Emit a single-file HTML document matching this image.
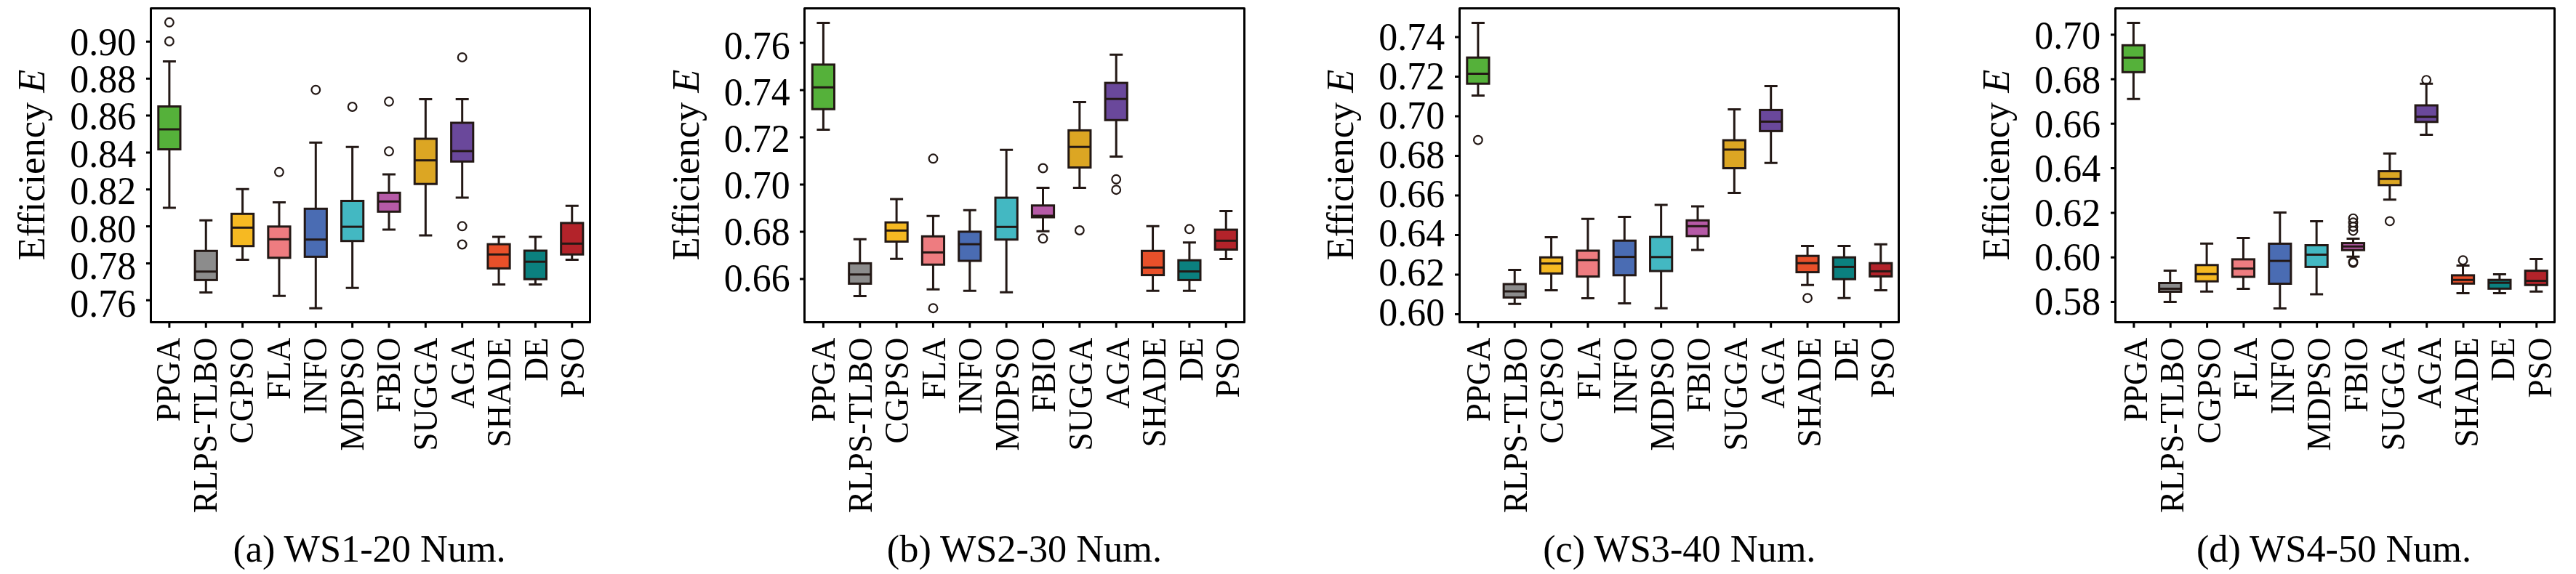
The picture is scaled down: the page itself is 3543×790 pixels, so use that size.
<!DOCTYPE html>
<html><head><meta charset="utf-8"><style>
html,body{margin:0;padding:0;background:#fff;overflow:hidden;}
svg{display:block;will-change:transform;}
text{font-family:"Liberation Serif",serif;fill:#000;}
.t{font-size:51.9px;} .x{font-size:45.3px;} .y{font-size:52.5px;} .c{font-size:52.3px;}
</style></head><body>
<svg width="3543" height="790" viewBox="0 0 3543 790">
<rect width="3543" height="790" fill="#fff"/>
<path d="M232.9 84.5V146.5M232.9 205.5V286.1M223.9 84.5H241.9M223.9 286.1H241.9" stroke="#231815" stroke-width="3" fill="none"/>
<rect x="217.8" y="146.5" width="30.2" height="59" fill="#55b13a" stroke="#231815" stroke-width="3"/>
<path d="M217.8 178H248" stroke="#231815" stroke-width="3"/>
<circle cx="232.9" cy="30.8" r="5.85" fill="none" stroke="#231815" stroke-width="2.2"/>
<circle cx="232.9" cy="56.9" r="5.85" fill="none" stroke="#231815" stroke-width="2.2"/>
<path d="M283.25 303.3V345.3M283.25 385.4V402.5M274.25 303.3H292.25M274.25 402.5H292.25" stroke="#231815" stroke-width="3" fill="none"/>
<rect x="268.15" y="345.3" width="30.2" height="40.1" fill="#8c8c8c" stroke="#231815" stroke-width="3"/>
<path d="M268.15 373.8H298.35" stroke="#231815" stroke-width="3"/>
<path d="M333.6 260.2V294.3M333.6 338.7V357.6M324.6 260.2H342.6M324.6 357.6H342.6" stroke="#231815" stroke-width="3" fill="none"/>
<rect x="318.5" y="294.3" width="30.2" height="44.4" fill="#f6b922" stroke="#231815" stroke-width="3"/>
<path d="M318.5 313.3H348.7" stroke="#231815" stroke-width="3"/>
<path d="M383.95 278.5V311.8M383.95 354.8V407.2M374.95 278.5H392.95M374.95 407.2H392.95" stroke="#231815" stroke-width="3" fill="none"/>
<rect x="368.85" y="311.8" width="30.2" height="43" fill="#ee7c80" stroke="#231815" stroke-width="3"/>
<path d="M368.85 329.3H399.05" stroke="#231815" stroke-width="3"/>
<circle cx="383.95" cy="236.8" r="5.85" fill="none" stroke="#231815" stroke-width="2.2"/>
<path d="M434.3 196.2V287.3M434.3 353.4V424.2M425.3 196.2H443.3M425.3 424.2H443.3" stroke="#231815" stroke-width="3" fill="none"/>
<rect x="419.2" y="287.3" width="30.2" height="66.1" fill="#4a6cb3" stroke="#231815" stroke-width="3"/>
<path d="M419.2 329.7H449.4" stroke="#231815" stroke-width="3"/>
<circle cx="434.3" cy="123.7" r="5.85" fill="none" stroke="#231815" stroke-width="2.2"/>
<path d="M484.65 202.2V276.5M484.65 331.7V396.2M475.65 202.2H493.65M475.65 396.2H493.65" stroke="#231815" stroke-width="3" fill="none"/>
<rect x="469.55" y="276.5" width="30.2" height="55.2" fill="#43b8c2" stroke="#231815" stroke-width="3"/>
<path d="M469.55 312.1H499.75" stroke="#231815" stroke-width="3"/>
<circle cx="484.65" cy="147" r="5.85" fill="none" stroke="#231815" stroke-width="2.2"/>
<path d="M535 240V265.3M535 291.3V316.1M526 240H544M526 316.1H544" stroke="#231815" stroke-width="3" fill="none"/>
<rect x="519.9" y="265.3" width="30.2" height="26" fill="#b65aa7" stroke="#231815" stroke-width="3"/>
<path d="M519.9 277.3H550.1" stroke="#231815" stroke-width="3"/>
<circle cx="535" cy="139.8" r="5.85" fill="none" stroke="#231815" stroke-width="2.2"/>
<circle cx="535" cy="208.3" r="5.85" fill="none" stroke="#231815" stroke-width="2.2"/>
<path d="M585.35 136.6V191M585.35 253.2V324.1M576.35 136.6H594.35M576.35 324.1H594.35" stroke="#231815" stroke-width="3" fill="none"/>
<rect x="570.25" y="191" width="30.2" height="62.2" fill="#dca623" stroke="#231815" stroke-width="3"/>
<path d="M570.25 220.7H600.45" stroke="#231815" stroke-width="3"/>
<path d="M635.7 136.6V169M635.7 222.3V272.1M626.7 136.6H644.7M626.7 272.1H644.7" stroke="#231815" stroke-width="3" fill="none"/>
<rect x="620.6" y="169" width="30.2" height="53.3" fill="#6a489b" stroke="#231815" stroke-width="3"/>
<path d="M620.6 207.9H650.8" stroke="#231815" stroke-width="3"/>
<circle cx="635.7" cy="78.9" r="5.85" fill="none" stroke="#231815" stroke-width="2.2"/>
<circle cx="635.7" cy="311.3" r="5.85" fill="none" stroke="#231815" stroke-width="2.2"/>
<circle cx="635.7" cy="336.5" r="5.85" fill="none" stroke="#231815" stroke-width="2.2"/>
<path d="M686.05 326.1V336.1M686.05 369.4V391.4M677.05 326.1H695.05M677.05 391.4H695.05" stroke="#231815" stroke-width="3" fill="none"/>
<rect x="670.95" y="336.1" width="30.2" height="33.3" fill="#e8502a" stroke="#231815" stroke-width="3"/>
<path d="M670.95 350.2H701.15" stroke="#231815" stroke-width="3"/>
<path d="M736.4 326.1V345M736.4 384.2V391.4M727.4 326.1H745.4M727.4 391.4H745.4" stroke="#231815" stroke-width="3" fill="none"/>
<rect x="721.3" y="345" width="30.2" height="39.2" fill="#0b807f" stroke="#231815" stroke-width="3"/>
<path d="M721.3 360.2H751.5" stroke="#231815" stroke-width="3"/>
<path d="M786.75 283.3V306.9M786.75 350.2V357.4M777.75 283.3H795.75M777.75 357.4H795.75" stroke="#231815" stroke-width="3" fill="none"/>
<rect x="771.65" y="306.9" width="30.2" height="43.3" fill="#b3232a" stroke="#231815" stroke-width="3"/>
<path d="M771.65 335.3H801.85" stroke="#231815" stroke-width="3"/>
<rect x="207.5" y="11.5" width="604" height="432" fill="none" stroke="#000" stroke-width="3" stroke-linejoin="round"/>
<text transform="translate(187.1,435.6) scale(1,1.045)" class="t" text-anchor="end">0.76</text>
<text transform="translate(187.1,384.16) scale(1,1.045)" class="t" text-anchor="end">0.78</text>
<text transform="translate(187.1,332.71) scale(1,1.045)" class="t" text-anchor="end">0.80</text>
<text transform="translate(187.1,281.27) scale(1,1.045)" class="t" text-anchor="end">0.82</text>
<text transform="translate(187.1,229.83) scale(1,1.045)" class="t" text-anchor="end">0.84</text>
<text transform="translate(187.1,178.39) scale(1,1.045)" class="t" text-anchor="end">0.86</text>
<text transform="translate(187.1,126.94) scale(1,1.045)" class="t" text-anchor="end">0.88</text>
<text transform="translate(187.1,75.5) scale(1,1.045)" class="t" text-anchor="end">0.90</text>
<text transform="translate(247.3,464.5) rotate(-90) scale(1,1.035)" class="x" text-anchor="end">PPGA</text>
<text transform="translate(297.83,464.5) rotate(-90) scale(1,1.035)" class="x" text-anchor="end">RLPS-TLBO</text>
<text transform="translate(348.36,464.5) rotate(-90) scale(1,1.035)" class="x" text-anchor="end">CGPSO</text>
<text transform="translate(398.89,464.5) rotate(-90) scale(1,1.035)" class="x" text-anchor="end">FLA</text>
<text transform="translate(449.42,464.5) rotate(-90) scale(1,1.035)" class="x" text-anchor="end">INFO</text>
<text transform="translate(499.95,464.5) rotate(-90) scale(1,1.035)" class="x" text-anchor="end">MDPSO</text>
<text transform="translate(550.48,464.5) rotate(-90) scale(1,1.035)" class="x" text-anchor="end">FBIO</text>
<text transform="translate(601.01,464.5) rotate(-90) scale(1,1.035)" class="x" text-anchor="end">SUGGA</text>
<text transform="translate(651.54,464.5) rotate(-90) scale(1,1.035)" class="x" text-anchor="end">AGA</text>
<text transform="translate(702.07,464.5) rotate(-90) scale(1,1.035)" class="x" text-anchor="end">SHADE</text>
<text transform="translate(752.6,464.5) rotate(-90) scale(1,1.035)" class="x" text-anchor="end">DE</text>
<text transform="translate(803.13,464.5) rotate(-90) scale(1,1.035)" class="x" text-anchor="end">PSO</text>
<path d="M201 413.28H207.5M201 362.43H207.5M201 311.58H207.5M201 260.73H207.5M201 209.88H207.5M201 159.03H207.5M201 108.18H207.5M201 57.33H207.5M232.9 443.5V451M283.25 443.5V451M333.6 443.5V451M383.95 443.5V451M434.3 443.5V451M484.65 443.5V451M535 443.5V451M585.35 443.5V451M635.7 443.5V451M686.05 443.5V451M736.4 443.5V451M786.75 443.5V451" stroke="#000" stroke-width="3"/>
<text transform="translate(61,227) rotate(-90)" class="y" text-anchor="middle">Efficiency <tspan font-style="italic">E</tspan></text>
<text x="508.05" y="773" class="c" text-anchor="middle">(a) WS1-20 Num.</text>
<path d="M1132.4 31.5V88.9M1132.4 150.2V178.6M1123.4 31.5H1141.4M1123.4 178.6H1141.4" stroke="#231815" stroke-width="3" fill="none"/>
<rect x="1117.3" y="88.9" width="30.2" height="61.3" fill="#55b13a" stroke="#231815" stroke-width="3"/>
<path d="M1117.3 120.2H1147.5" stroke="#231815" stroke-width="3"/>
<path d="M1182.75 329.3V362.4M1182.75 390.4V407.5M1173.75 329.3H1191.75M1173.75 407.5H1191.75" stroke="#231815" stroke-width="3" fill="none"/>
<rect x="1167.65" y="362.4" width="30.2" height="28" fill="#8c8c8c" stroke="#231815" stroke-width="3"/>
<path d="M1167.65 377.8H1197.85" stroke="#231815" stroke-width="3"/>
<path d="M1233.1 274.1V306.1M1233.1 332.5V356.2M1224.1 274.1H1242.1M1224.1 356.2H1242.1" stroke="#231815" stroke-width="3" fill="none"/>
<rect x="1218" y="306.1" width="30.2" height="26.4" fill="#f6b922" stroke="#231815" stroke-width="3"/>
<path d="M1218 317.3H1248.2" stroke="#231815" stroke-width="3"/>
<path d="M1283.45 297.3V325.3M1283.45 364.2V398.2M1274.45 297.3H1292.45M1274.45 398.2H1292.45" stroke="#231815" stroke-width="3" fill="none"/>
<rect x="1268.35" y="325.3" width="30.2" height="38.9" fill="#ee7c80" stroke="#231815" stroke-width="3"/>
<path d="M1268.35 347.4H1298.55" stroke="#231815" stroke-width="3"/>
<circle cx="1283.45" cy="218.3" r="5.85" fill="none" stroke="#231815" stroke-width="2.2"/>
<circle cx="1283.45" cy="424.2" r="5.85" fill="none" stroke="#231815" stroke-width="2.2"/>
<path d="M1333.8 289.3V318.9M1333.8 359V400.2M1324.8 289.3H1342.8M1324.8 400.2H1342.8" stroke="#231815" stroke-width="3" fill="none"/>
<rect x="1318.7" y="318.9" width="30.2" height="40.1" fill="#4a6cb3" stroke="#231815" stroke-width="3"/>
<path d="M1318.7 336.1H1348.9" stroke="#231815" stroke-width="3"/>
<path d="M1384.15 206.2V272.1M1384.15 329.7V402.2M1375.15 206.2H1393.15M1375.15 402.2H1393.15" stroke="#231815" stroke-width="3" fill="none"/>
<rect x="1369.05" y="272.1" width="30.2" height="57.6" fill="#43b8c2" stroke="#231815" stroke-width="3"/>
<path d="M1369.05 312.3H1399.25" stroke="#231815" stroke-width="3"/>
<path d="M1434.5 258.5V282.8M1434.5 299V318.3M1425.5 258.5H1443.5M1425.5 318.3H1443.5" stroke="#231815" stroke-width="3" fill="none"/>
<rect x="1419.4" y="282.8" width="30.2" height="16.2" fill="#b65aa7" stroke="#231815" stroke-width="3"/>
<path d="M1419.4 297H1449.6" stroke="#231815" stroke-width="3"/>
<circle cx="1434.5" cy="231.5" r="5.85" fill="none" stroke="#231815" stroke-width="2.2"/>
<circle cx="1434.5" cy="328.3" r="5.85" fill="none" stroke="#231815" stroke-width="2.2"/>
<path d="M1484.85 140.6V179.4M1484.85 230.5V258.5M1475.85 140.6H1493.85M1475.85 258.5H1493.85" stroke="#231815" stroke-width="3" fill="none"/>
<rect x="1469.75" y="179.4" width="30.2" height="51.1" fill="#dca623" stroke="#231815" stroke-width="3"/>
<path d="M1469.75 202.2H1499.95" stroke="#231815" stroke-width="3"/>
<circle cx="1484.85" cy="317" r="5.85" fill="none" stroke="#231815" stroke-width="2.2"/>
<path d="M1535.2 75.3V114.1M1535.2 165.3V215.6M1526.2 75.3H1544.2M1526.2 215.6H1544.2" stroke="#231815" stroke-width="3" fill="none"/>
<rect x="1520.1" y="114.1" width="30.2" height="51.2" fill="#6a489b" stroke="#231815" stroke-width="3"/>
<path d="M1520.1 136.2H1550.3" stroke="#231815" stroke-width="3"/>
<circle cx="1535.2" cy="246.8" r="5.85" fill="none" stroke="#231815" stroke-width="2.2"/>
<circle cx="1535.2" cy="261.2" r="5.85" fill="none" stroke="#231815" stroke-width="2.2"/>
<path d="M1585.55 311.3V345.3M1585.55 378.6V400.2M1576.55 311.3H1594.55M1576.55 400.2H1594.55" stroke="#231815" stroke-width="3" fill="none"/>
<rect x="1570.45" y="345.3" width="30.2" height="33.3" fill="#e8502a" stroke="#231815" stroke-width="3"/>
<path d="M1570.45 368.2H1600.65" stroke="#231815" stroke-width="3"/>
<path d="M1635.9 333.7V358.2M1635.9 385.4V400.2M1626.9 333.7H1644.9M1626.9 400.2H1644.9" stroke="#231815" stroke-width="3" fill="none"/>
<rect x="1620.8" y="358.2" width="30.2" height="27.2" fill="#0b807f" stroke="#231815" stroke-width="3"/>
<path d="M1620.8 373.6H1651" stroke="#231815" stroke-width="3"/>
<circle cx="1635.9" cy="315.3" r="5.85" fill="none" stroke="#231815" stroke-width="2.2"/>
<path d="M1686.25 290.5V316.1M1686.25 343.5V356.4M1677.25 290.5H1695.25M1677.25 356.4H1695.25" stroke="#231815" stroke-width="3" fill="none"/>
<rect x="1671.15" y="316.1" width="30.2" height="27.4" fill="#b3232a" stroke="#231815" stroke-width="3"/>
<path d="M1671.15 331.3H1701.35" stroke="#231815" stroke-width="3"/>
<rect x="1106.5" y="11.5" width="605" height="432" fill="none" stroke="#000" stroke-width="3" stroke-linejoin="round"/>
<text transform="translate(1086.6,400.6) scale(1,1.045)" class="t" text-anchor="end">0.66</text>
<text transform="translate(1086.6,336.6) scale(1,1.045)" class="t" text-anchor="end">0.68</text>
<text transform="translate(1086.6,272.6) scale(1,1.045)" class="t" text-anchor="end">0.70</text>
<text transform="translate(1086.6,208.6) scale(1,1.045)" class="t" text-anchor="end">0.72</text>
<text transform="translate(1086.6,144.6) scale(1,1.045)" class="t" text-anchor="end">0.74</text>
<text transform="translate(1086.6,80.6) scale(1,1.045)" class="t" text-anchor="end">0.76</text>
<text transform="translate(1148.3,464.5) rotate(-90) scale(1,1.035)" class="x" text-anchor="end">PPGA</text>
<text transform="translate(1198.83,464.5) rotate(-90) scale(1,1.035)" class="x" text-anchor="end">RLPS-TLBO</text>
<text transform="translate(1249.36,464.5) rotate(-90) scale(1,1.035)" class="x" text-anchor="end">CGPSO</text>
<text transform="translate(1299.89,464.5) rotate(-90) scale(1,1.035)" class="x" text-anchor="end">FLA</text>
<text transform="translate(1350.42,464.5) rotate(-90) scale(1,1.035)" class="x" text-anchor="end">INFO</text>
<text transform="translate(1400.95,464.5) rotate(-90) scale(1,1.035)" class="x" text-anchor="end">MDPSO</text>
<text transform="translate(1451.48,464.5) rotate(-90) scale(1,1.035)" class="x" text-anchor="end">FBIO</text>
<text transform="translate(1502.01,464.5) rotate(-90) scale(1,1.035)" class="x" text-anchor="end">SUGGA</text>
<text transform="translate(1552.54,464.5) rotate(-90) scale(1,1.035)" class="x" text-anchor="end">AGA</text>
<text transform="translate(1603.07,464.5) rotate(-90) scale(1,1.035)" class="x" text-anchor="end">SHADE</text>
<text transform="translate(1653.6,464.5) rotate(-90) scale(1,1.035)" class="x" text-anchor="end">DE</text>
<text transform="translate(1704.13,464.5) rotate(-90) scale(1,1.035)" class="x" text-anchor="end">PSO</text>
<path d="M1100 384.1H1106.5M1100 319.07H1106.5M1100 254.04H1106.5M1100 189.01H1106.5M1100 123.98H1106.5M1100 58.95H1106.5M1132.4 443.5V451M1182.75 443.5V451M1233.1 443.5V451M1283.45 443.5V451M1333.8 443.5V451M1384.15 443.5V451M1434.5 443.5V451M1484.85 443.5V451M1535.2 443.5V451M1585.55 443.5V451M1635.9 443.5V451M1686.25 443.5V451" stroke="#000" stroke-width="3"/>
<text transform="translate(960.5,227) rotate(-90)" class="y" text-anchor="middle">Efficiency <tspan font-style="italic">E</tspan></text>
<text x="1408.9" y="773" class="c" text-anchor="middle">(b) WS2-30 Num.</text>
<path d="M2032.9 31.5V79.2M2032.9 115.2V131.5M2023.9 31.5H2041.9M2023.9 131.5H2041.9" stroke="#231815" stroke-width="3" fill="none"/>
<rect x="2017.8" y="79.2" width="30.2" height="36" fill="#55b13a" stroke="#231815" stroke-width="3"/>
<path d="M2017.8 101.5H2048" stroke="#231815" stroke-width="3"/>
<circle cx="2032.9" cy="192.7" r="5.85" fill="none" stroke="#231815" stroke-width="2.2"/>
<path d="M2083.25 371.4V391M2083.25 409.4V418.2M2074.25 371.4H2092.25M2074.25 418.2H2092.25" stroke="#231815" stroke-width="3" fill="none"/>
<rect x="2068.15" y="391" width="30.2" height="18.4" fill="#8c8c8c" stroke="#231815" stroke-width="3"/>
<path d="M2068.15 401H2098.35" stroke="#231815" stroke-width="3"/>
<path d="M2133.6 326.4V354.2M2133.6 376.4V399.6M2124.6 326.4H2142.6M2124.6 399.6H2142.6" stroke="#231815" stroke-width="3" fill="none"/>
<rect x="2118.5" y="354.2" width="30.2" height="22.2" fill="#f6b922" stroke="#231815" stroke-width="3"/>
<path d="M2118.5 362.7H2148.7" stroke="#231815" stroke-width="3"/>
<path d="M2183.95 301.3V345M2183.95 380.6V410.4M2174.95 301.3H2192.95M2174.95 410.4H2192.95" stroke="#231815" stroke-width="3" fill="none"/>
<rect x="2168.85" y="345" width="30.2" height="35.6" fill="#ee7c80" stroke="#231815" stroke-width="3"/>
<path d="M2168.85 357.9H2199.05" stroke="#231815" stroke-width="3"/>
<path d="M2234.3 298.4V331.2M2234.3 378.8V417.4M2225.3 298.4H2243.3M2225.3 417.4H2243.3" stroke="#231815" stroke-width="3" fill="none"/>
<rect x="2219.2" y="331.2" width="30.2" height="47.6" fill="#4a6cb3" stroke="#231815" stroke-width="3"/>
<path d="M2219.2 353.6H2249.4" stroke="#231815" stroke-width="3"/>
<path d="M2284.65 282.1V326.1M2284.65 373V424.2M2275.65 282.1H2293.65M2275.65 424.2H2293.65" stroke="#231815" stroke-width="3" fill="none"/>
<rect x="2269.55" y="326.1" width="30.2" height="46.9" fill="#43b8c2" stroke="#231815" stroke-width="3"/>
<path d="M2269.55 353.8H2299.75" stroke="#231815" stroke-width="3"/>
<path d="M2335 284.1V303.3M2335 324.9V344.1M2326 284.1H2344M2326 344.1H2344" stroke="#231815" stroke-width="3" fill="none"/>
<rect x="2319.9" y="303.3" width="30.2" height="21.6" fill="#b65aa7" stroke="#231815" stroke-width="3"/>
<path d="M2319.9 311.3H2350.1" stroke="#231815" stroke-width="3"/>
<path d="M2385.35 150.6V193M2385.35 231.5V265.5M2376.35 150.6H2394.35M2376.35 265.5H2394.35" stroke="#231815" stroke-width="3" fill="none"/>
<rect x="2370.25" y="193" width="30.2" height="38.5" fill="#dca623" stroke="#231815" stroke-width="3"/>
<path d="M2370.25 205.9H2400.45" stroke="#231815" stroke-width="3"/>
<path d="M2435.7 118.5V151.4M2435.7 180.4V224.3M2426.7 118.5H2444.7M2426.7 224.3H2444.7" stroke="#231815" stroke-width="3" fill="none"/>
<rect x="2420.6" y="151.4" width="30.2" height="29" fill="#6a489b" stroke="#231815" stroke-width="3"/>
<path d="M2420.6 167.4H2450.8" stroke="#231815" stroke-width="3"/>
<path d="M2486.05 338.5V352.2M2486.05 374.6V392.2M2477.05 338.5H2495.05M2477.05 392.2H2495.05" stroke="#231815" stroke-width="3" fill="none"/>
<rect x="2470.95" y="352.2" width="30.2" height="22.4" fill="#e8502a" stroke="#231815" stroke-width="3"/>
<path d="M2470.95 362.2H2501.15" stroke="#231815" stroke-width="3"/>
<circle cx="2486.05" cy="410.2" r="5.85" fill="none" stroke="#231815" stroke-width="2.2"/>
<path d="M2536.4 338.5V354.2M2536.4 384.2V410.2M2527.4 338.5H2545.4M2527.4 410.2H2545.4" stroke="#231815" stroke-width="3" fill="none"/>
<rect x="2521.3" y="354.2" width="30.2" height="30" fill="#0b807f" stroke="#231815" stroke-width="3"/>
<path d="M2521.3 367.4H2551.5" stroke="#231815" stroke-width="3"/>
<path d="M2586.75 336.3V362.2M2586.75 380.4V399.5M2577.75 336.3H2595.75M2577.75 399.5H2595.75" stroke="#231815" stroke-width="3" fill="none"/>
<rect x="2571.65" y="362.2" width="30.2" height="18.2" fill="#b3232a" stroke="#231815" stroke-width="3"/>
<path d="M2571.65 373.4H2601.85" stroke="#231815" stroke-width="3"/>
<rect x="2007.5" y="11.5" width="604" height="432" fill="none" stroke="#000" stroke-width="3" stroke-linejoin="round"/>
<text transform="translate(1987.1,447.5) scale(1,1.045)" class="t" text-anchor="end">0.60</text>
<text transform="translate(1987.1,393.37) scale(1,1.045)" class="t" text-anchor="end">0.62</text>
<text transform="translate(1987.1,339.24) scale(1,1.045)" class="t" text-anchor="end">0.64</text>
<text transform="translate(1987.1,285.11) scale(1,1.045)" class="t" text-anchor="end">0.66</text>
<text transform="translate(1987.1,230.99) scale(1,1.045)" class="t" text-anchor="end">0.68</text>
<text transform="translate(1987.1,176.86) scale(1,1.045)" class="t" text-anchor="end">0.70</text>
<text transform="translate(1987.1,122.73) scale(1,1.045)" class="t" text-anchor="end">0.72</text>
<text transform="translate(1987.1,68.6) scale(1,1.045)" class="t" text-anchor="end">0.74</text>
<text transform="translate(2049.3,464.5) rotate(-90) scale(1,1.035)" class="x" text-anchor="end">PPGA</text>
<text transform="translate(2099.83,464.5) rotate(-90) scale(1,1.035)" class="x" text-anchor="end">RLPS-TLBO</text>
<text transform="translate(2150.36,464.5) rotate(-90) scale(1,1.035)" class="x" text-anchor="end">CGPSO</text>
<text transform="translate(2200.89,464.5) rotate(-90) scale(1,1.035)" class="x" text-anchor="end">FLA</text>
<text transform="translate(2251.42,464.5) rotate(-90) scale(1,1.035)" class="x" text-anchor="end">INFO</text>
<text transform="translate(2301.95,464.5) rotate(-90) scale(1,1.035)" class="x" text-anchor="end">MDPSO</text>
<text transform="translate(2352.48,464.5) rotate(-90) scale(1,1.035)" class="x" text-anchor="end">FBIO</text>
<text transform="translate(2403.01,464.5) rotate(-90) scale(1,1.035)" class="x" text-anchor="end">SUGGA</text>
<text transform="translate(2453.54,464.5) rotate(-90) scale(1,1.035)" class="x" text-anchor="end">AGA</text>
<text transform="translate(2504.07,464.5) rotate(-90) scale(1,1.035)" class="x" text-anchor="end">SHADE</text>
<text transform="translate(2554.6,464.5) rotate(-90) scale(1,1.035)" class="x" text-anchor="end">DE</text>
<text transform="translate(2605.13,464.5) rotate(-90) scale(1,1.035)" class="x" text-anchor="end">PSO</text>
<path d="M2001 432.41H2007.5M2001 377.94H2007.5M2001 323.47H2007.5M2001 269H2007.5M2001 214.53H2007.5M2001 160.06H2007.5M2001 105.59H2007.5M2001 51.12H2007.5M2032.9 443.5V451M2083.25 443.5V451M2133.6 443.5V451M2183.95 443.5V451M2234.3 443.5V451M2284.65 443.5V451M2335 443.5V451M2385.35 443.5V451M2435.7 443.5V451M2486.05 443.5V451M2536.4 443.5V451M2586.75 443.5V451" stroke="#000" stroke-width="3"/>
<text transform="translate(1861,227) rotate(-90)" class="y" text-anchor="middle">Efficiency <tspan font-style="italic">E</tspan></text>
<text x="2309.8" y="773" class="c" text-anchor="middle">(c) WS3-40 Num.</text>
<path d="M2934.4 31.5V62.3M2934.4 99.3V136.2M2925.4 31.5H2943.4M2925.4 136.2H2943.4" stroke="#231815" stroke-width="3" fill="none"/>
<rect x="2919.3" y="62.3" width="30.2" height="37" fill="#55b13a" stroke="#231815" stroke-width="3"/>
<path d="M2919.3 79.3H2949.5" stroke="#231815" stroke-width="3"/>
<path d="M2984.75 372.5V389.5M2984.75 401.5V415.5M2975.75 372.5H2993.75M2975.75 415.5H2993.75" stroke="#231815" stroke-width="3" fill="none"/>
<rect x="2969.65" y="389.5" width="30.2" height="12" fill="#8c8c8c" stroke="#231815" stroke-width="3"/>
<path d="M2969.65 397.4H2999.85" stroke="#231815" stroke-width="3"/>
<path d="M3035.1 335.3V364.8M3035.1 387.2V401.3M3026.1 335.3H3044.1M3026.1 401.3H3044.1" stroke="#231815" stroke-width="3" fill="none"/>
<rect x="3020" y="364.8" width="30.2" height="22.4" fill="#f6b922" stroke="#231815" stroke-width="3"/>
<path d="M3020 377.2H3050.2" stroke="#231815" stroke-width="3"/>
<path d="M3085.45 327.4V356.9M3085.45 381V397.4M3076.45 327.4H3094.45M3076.45 397.4H3094.45" stroke="#231815" stroke-width="3" fill="none"/>
<rect x="3070.35" y="356.9" width="30.2" height="24.1" fill="#ee7c80" stroke="#231815" stroke-width="3"/>
<path d="M3070.35 369.7H3100.55" stroke="#231815" stroke-width="3"/>
<path d="M3135.8 292.6V335.4M3135.8 390.5V424.4M3126.8 292.6H3144.8M3126.8 424.4H3144.8" stroke="#231815" stroke-width="3" fill="none"/>
<rect x="3120.7" y="335.4" width="30.2" height="55.1" fill="#4a6cb3" stroke="#231815" stroke-width="3"/>
<path d="M3120.7 359.1H3150.9" stroke="#231815" stroke-width="3"/>
<path d="M3186.15 304.5V337.5M3186.15 367.4V405M3177.15 304.5H3195.15M3177.15 405H3195.15" stroke="#231815" stroke-width="3" fill="none"/>
<rect x="3171.05" y="337.5" width="30.2" height="29.9" fill="#43b8c2" stroke="#231815" stroke-width="3"/>
<path d="M3171.05 350.5H3201.25" stroke="#231815" stroke-width="3"/>
<path d="M3236.5 328.4V334.6M3236.5 344.2V353.2M3227.5 328.4H3245.5M3227.5 353.2H3245.5" stroke="#231815" stroke-width="3" fill="none"/>
<rect x="3221.4" y="334.6" width="30.2" height="9.6" fill="#b65aa7" stroke="#231815" stroke-width="3"/>
<path d="M3221.4 339.2H3251.6" stroke="#231815" stroke-width="3"/>
<circle cx="3236.5" cy="300.6" r="5.85" fill="none" stroke="#231815" stroke-width="2.2"/>
<circle cx="3236.5" cy="306.3" r="5.85" fill="none" stroke="#231815" stroke-width="2.2"/>
<circle cx="3236.5" cy="312" r="5.85" fill="none" stroke="#231815" stroke-width="2.2"/>
<circle cx="3236.5" cy="317.7" r="5.85" fill="none" stroke="#231815" stroke-width="2.2"/>
<circle cx="3236.5" cy="360.5" r="5.85" fill="none" stroke="#231815" stroke-width="2.2"/>
<circle cx="3236.5" cy="361.8" r="5.85" fill="none" stroke="#231815" stroke-width="2.2"/>
<path d="M3286.85 211.3V235.6M3286.85 254.8V274.8M3277.85 211.3H3295.85M3277.85 274.8H3295.85" stroke="#231815" stroke-width="3" fill="none"/>
<rect x="3271.75" y="235.6" width="30.2" height="19.2" fill="#dca623" stroke="#231815" stroke-width="3"/>
<path d="M3271.75 246.3H3301.95" stroke="#231815" stroke-width="3"/>
<circle cx="3286.85" cy="304.4" r="5.85" fill="none" stroke="#231815" stroke-width="2.2"/>
<path d="M3337.2 115.3V145M3337.2 167.8V185.5M3328.2 115.3H3346.2M3328.2 185.5H3346.2" stroke="#231815" stroke-width="3" fill="none"/>
<rect x="3322.1" y="145" width="30.2" height="22.8" fill="#6a489b" stroke="#231815" stroke-width="3"/>
<path d="M3322.1 160.7H3352.3" stroke="#231815" stroke-width="3"/>
<circle cx="3337.2" cy="110.1" r="5.85" fill="none" stroke="#231815" stroke-width="2.2"/>
<path d="M3387.55 365.4V378.9M3387.55 390.3V403.6M3378.55 365.4H3396.55M3378.55 403.6H3396.55" stroke="#231815" stroke-width="3" fill="none"/>
<rect x="3372.45" y="378.9" width="30.2" height="11.4" fill="#e8502a" stroke="#231815" stroke-width="3"/>
<path d="M3372.45 385.3H3402.65" stroke="#231815" stroke-width="3"/>
<circle cx="3387.55" cy="358.2" r="5.85" fill="none" stroke="#231815" stroke-width="2.2"/>
<path d="M3437.9 377.4V385.2M3437.9 397.3V403.6M3428.9 377.4H3446.9M3428.9 403.6H3446.9" stroke="#231815" stroke-width="3" fill="none"/>
<rect x="3422.8" y="385.2" width="30.2" height="12.1" fill="#0b807f" stroke="#231815" stroke-width="3"/>
<path d="M3422.8 389.2H3453" stroke="#231815" stroke-width="3"/>
<path d="M3488.25 356.5V372.6M3488.25 392.3V401.3M3479.25 356.5H3497.25M3479.25 401.3H3497.25" stroke="#231815" stroke-width="3" fill="none"/>
<rect x="3473.15" y="372.6" width="30.2" height="19.7" fill="#b3232a" stroke="#231815" stroke-width="3"/>
<path d="M3473.15 386.5H3503.35" stroke="#231815" stroke-width="3"/>
<rect x="2909.5" y="11.5" width="604" height="432" fill="none" stroke="#000" stroke-width="3" stroke-linejoin="round"/>
<text transform="translate(2889.1,433.4) scale(1,1.045)" class="t" text-anchor="end">0.58</text>
<text transform="translate(2889.1,372.27) scale(1,1.045)" class="t" text-anchor="end">0.60</text>
<text transform="translate(2889.1,311.13) scale(1,1.045)" class="t" text-anchor="end">0.62</text>
<text transform="translate(2889.1,250) scale(1,1.045)" class="t" text-anchor="end">0.64</text>
<text transform="translate(2889.1,188.87) scale(1,1.045)" class="t" text-anchor="end">0.66</text>
<text transform="translate(2889.1,127.73) scale(1,1.045)" class="t" text-anchor="end">0.68</text>
<text transform="translate(2889.1,66.6) scale(1,1.045)" class="t" text-anchor="end">0.70</text>
<text transform="translate(2952.8,464.5) rotate(-90) scale(1,1.035)" class="x" text-anchor="end">PPGA</text>
<text transform="translate(3003.33,464.5) rotate(-90) scale(1,1.035)" class="x" text-anchor="end">RLPS-TLBO</text>
<text transform="translate(3053.86,464.5) rotate(-90) scale(1,1.035)" class="x" text-anchor="end">CGPSO</text>
<text transform="translate(3104.39,464.5) rotate(-90) scale(1,1.035)" class="x" text-anchor="end">FLA</text>
<text transform="translate(3154.92,464.5) rotate(-90) scale(1,1.035)" class="x" text-anchor="end">INFO</text>
<text transform="translate(3205.45,464.5) rotate(-90) scale(1,1.035)" class="x" text-anchor="end">MDPSO</text>
<text transform="translate(3255.98,464.5) rotate(-90) scale(1,1.035)" class="x" text-anchor="end">FBIO</text>
<text transform="translate(3306.51,464.5) rotate(-90) scale(1,1.035)" class="x" text-anchor="end">SUGGA</text>
<text transform="translate(3357.04,464.5) rotate(-90) scale(1,1.035)" class="x" text-anchor="end">AGA</text>
<text transform="translate(3407.57,464.5) rotate(-90) scale(1,1.035)" class="x" text-anchor="end">SHADE</text>
<text transform="translate(3458.1,464.5) rotate(-90) scale(1,1.035)" class="x" text-anchor="end">DE</text>
<text transform="translate(3508.63,464.5) rotate(-90) scale(1,1.035)" class="x" text-anchor="end">PSO</text>
<path d="M2903 415.42H2909.5M2903 354.15H2909.5M2903 292.88H2909.5M2903 231.61H2909.5M2903 170.34H2909.5M2903 109.07H2909.5M2903 47.8H2909.5M2934.9 443.5V451M2985.25 443.5V451M3035.6 443.5V451M3085.95 443.5V451M3136.3 443.5V451M3186.65 443.5V451M3237 443.5V451M3287.35 443.5V451M3337.7 443.5V451M3388.05 443.5V451M3438.4 443.5V451M3488.75 443.5V451" stroke="#000" stroke-width="3"/>
<text transform="translate(2763,227) rotate(-90)" class="y" text-anchor="middle">Efficiency <tspan font-style="italic">E</tspan></text>
<text x="3210" y="773" class="c" text-anchor="middle">(d) WS4-50 Num.</text>
</svg></body></html>
